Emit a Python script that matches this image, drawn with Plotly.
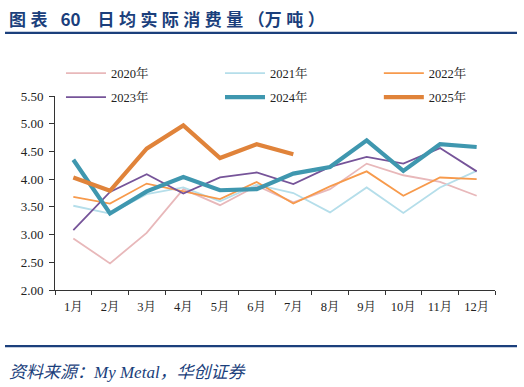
import plotly.graph_objects as go

months = ["1月", "2月", "3月", "4月", "5月", "6月", "7月", "8月", "9月", "10月", "11月", "12月"]

y2020 = [2.93, 2.48, 3.03, 3.82, 3.53, 3.88, 3.58, 3.82, 4.28, 4.07, 3.95, 3.70]
y2021 = [3.52, 3.38, 3.73, 3.85, 3.60, 3.90, 3.75, 3.40, 3.85, 3.39, 3.85, 4.15]
y2022 = [3.68, 3.56, 3.92, 3.78, 3.64, 3.95, 3.56, 3.87, 4.14, 3.70, 4.03, 4.00]
y2023 = [3.08, 3.77, 4.09, 3.74, 4.03, 4.12, 3.91, 4.22, 4.40, 4.28, 4.56, 4.14]
y2024 = [4.35, 3.38, 3.78, 4.04, 3.80, 3.82, 4.10, 4.22, 4.70, 4.15, 4.63, 4.58]
y2025 = [4.03, 3.79, 4.55, 4.97, 4.38, 4.63, 4.45]

series = [
    ("2020年", y2020, "#E8B8BA", 1.8),
    ("2021年", y2021, "#B5DEEA", 1.8),
    ("2022年", y2022, "#F79A4C", 1.8),
    ("2023年", y2023, "#765499", 1.8),
    ("2024年", y2024, "#3F97AF", 4.2),
    ("2025年", y2025, "#E0833A", 4.2),
]

serif = "Liberation Serif, Times New Roman, Noto Serif CJK SC, Noto Sans CJK SC, serif"

# legend slot per series: (column x in paper, row y in paper)
col_x = [0.0136, 0.375, 0.736]
row_y = [1.193, 1.070]

fig = go.Figure()
legends = {}
for i, (name, vals, color, w) in enumerate(series):
    key = "legend" if i == 0 else f"legend{i + 1}"
    fig.add_trace(go.Scatter(
        x=months[:len(vals)], y=vals, name=name, mode="lines",
        line=dict(color=color, width=w), legend=key,
    ))
    legends[key] = dict(
        orientation="h", xanchor="left", yanchor="top",
        x=col_x[i % 3], y=row_y[i // 3],
        font=dict(family=serif, size=12.5, color="#222222"),
        bgcolor="rgba(0,0,0,0)", itemwidth=40,
    )

sp = "\u2009\u200a"
title_txt = ("<b>图" + sp + "表\u2002" + sp + "60\u3000" + "日" + sp + "均" + sp + "实" + sp + "际"
             + sp + "消" + sp + "费" + sp + "量" + sp + "（万" + sp + "吨" + sp + "）</b>")

fig.update_layout(
    width=524, height=387,
    margin=dict(l=55, r=29, t=96, b=97, autoexpand=False),
    paper_bgcolor="white", plot_bgcolor="white",
    font=dict(family=serif, size=12.5, color="#222222"),
    showlegend=True,
    xaxis=dict(
        type="category", categoryorder="array", categoryarray=months,
        range=[-0.5, 11.5], automargin=False,
        showline=True, linecolor="#333333", linewidth=1,
        ticks="outside", ticklen=4, tickcolor="#333333",
        tickson="boundaries", showgrid=False, zeroline=False,
        ticklabelstandoff=5,
        tickfont=dict(family=serif, size=12.5, color="#222222"),
    ),
    yaxis=dict(
        range=[2.0, 5.5], dtick=0.5, tickformat=".2f", automargin=False,
        showline=True, linecolor="#333333", linewidth=1,
        ticks="outside", ticklen=5, tickcolor="#333333",
        showgrid=False, zeroline=False,
        ticklabelstandoff=3,
        tickfont=dict(family=serif, size=13, color="#222222"),
    ),
    shapes=[
        dict(type="line", xref="paper", yref="paper", x0=-0.1136, x1=1.05,
             y0=1.325, y1=1.325, line=dict(color="#1B3F7C", width=2.2)),
        dict(type="line", xref="paper", yref="paper", x0=-0.1136, x1=1.05,
             y0=-0.289, y1=-0.289, line=dict(color="#1B3F7C", width=2.2)),
    ],
    annotations=[
        dict(text=title_txt, xref="paper", yref="paper",
             x=-0.109, y=1.402, xanchor="left", yanchor="middle", showarrow=False,
             font=dict(family="Noto Sans CJK SC, sans-serif", size=17, color="#1B3F7C")),
        dict(text="<i>资料来源：My Metal，华创证券</i>", xref="paper", yref="paper",
             x=-0.109, y=-0.423, xanchor="left", yanchor="middle", showarrow=False,
             font=dict(family="Liberation Serif, Noto Sans CJK SC, serif", size=17,
                       color="#1B3F7C")),
    ],
)
fig.update_layout(**legends)

fig.write_html("out.html", config={"displayModeBar": False},
               post_script="document.body.style.margin='0';")
